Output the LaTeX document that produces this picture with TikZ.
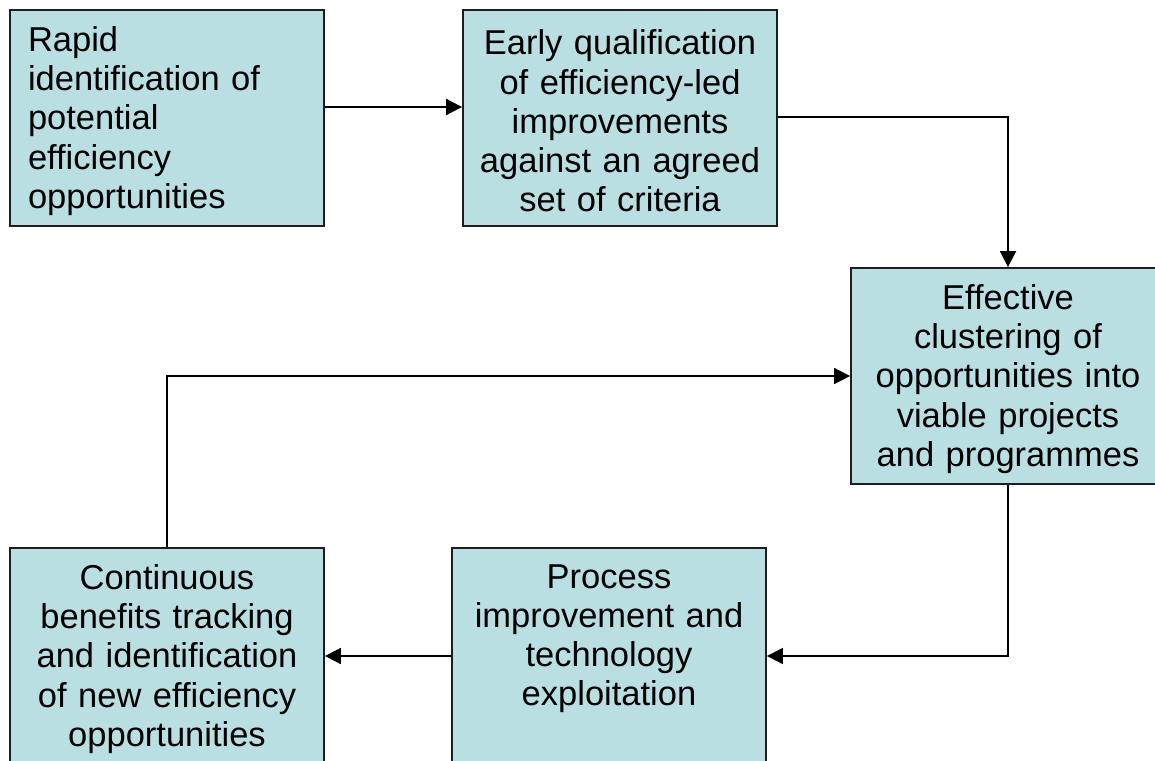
\documentclass[tikz,border=0pt]{standalone}
\usepackage{fontspec}
\setmainfont{Liberation Sans}
\usetikzlibrary{arrows.meta}
\definecolor{boxfill}{RGB}{185,223,227}
\definecolor{boxline}{RGB}{30,30,30}
\tikzset{
  stepbox/.style={draw=boxline, line width=1.8pt, fill=boxfill, minimum width=314pt, minimum height=216pt, inner sep=0pt},
  steptext/.style={inner sep=0pt, text width=304pt, align=center, font=\fontsize{34.5}{39.3}\selectfont, yshift=-3pt},
  conn/.style={line width=1.8pt, -{Triangle[length=16pt,width=16pt]}}
}
\begin{document}
\begin{tikzpicture}[x=1pt,y=-1pt]
\clip (0,0) rectangle (1155,760);
\fill[white] (0,0) rectangle (1155,760);
\node[stepbox] (b1) at (167,118) {};
\node[stepbox] (b2) at (620,118) {};
\node[stepbox] (b3) at (1008,376) {};
\node[stepbox] (b4) at (609,656) {};
\node[stepbox] (b5) at (167,656) {};
\node[steptext, text width=278pt, align=left] (t1) at (b1.center) {Rapid\\identification of\\potential\\efficiency\\opportunities};
\node[steptext] (t2) at (b2.center) {Early qualification\\of efficiency-led\\improvements\\against an agreed\\set of criteria};
\node[steptext] (t3) at (b3.center) {Effective\\clustering of\\opportunities into\\viable projects\\and programmes};
\node[steptext] (t5) at (b5.center) {Continuous\\benefits tracking\\and identification\\of new efficiency\\opportunities};
\node[steptext, anchor=north] (t4) at ([yshift=3pt]t5.north -| b4.center) {Process\\improvement and\\technology\\exploitation};
\draw[conn] ([yshift=11pt]b1.east) -- ([yshift=11pt]b2.west);
\draw[conn] ([yshift=1pt]b2.east) -| (b3.north);
\draw[conn] (b3.south) |- (b4.east);
\draw[conn] (b4.west) -- (b5.east);
\draw[conn] (b5.north) |- (b3.west);
\end{tikzpicture}
\end{document}
